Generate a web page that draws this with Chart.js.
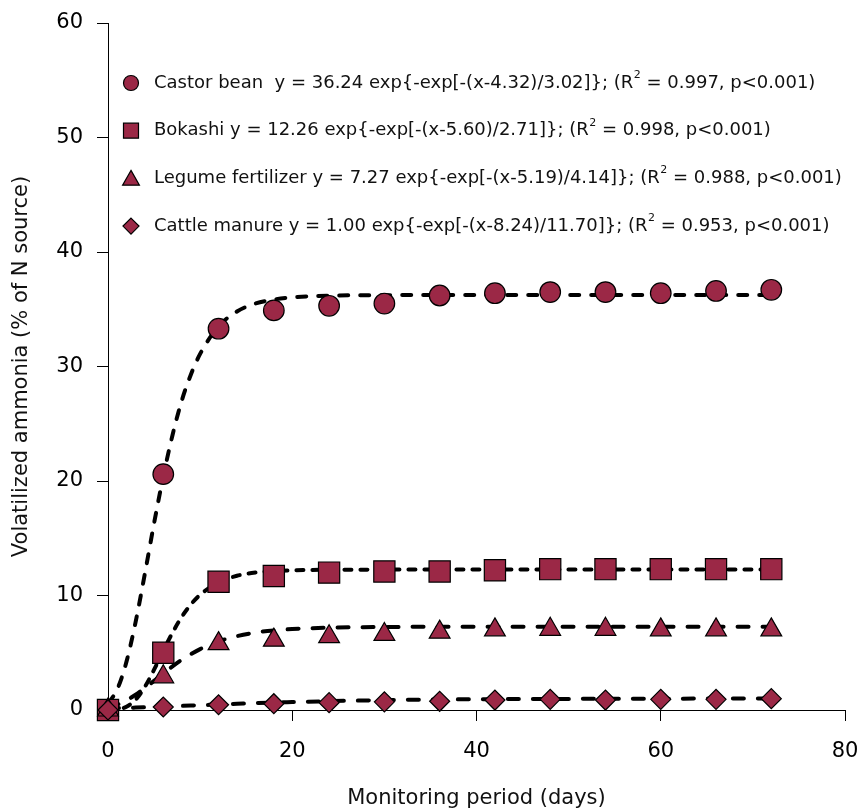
<!DOCTYPE html>
<html>
<head>
<meta charset="utf-8">
<script src="https://cdn.jsdelivr.net/npm/chart.js@4.4.1/dist/chart.umd.min.js"></script>
<style>
  body { margin: 0; background: #ffffff; }
  canvas { display: block; }
</style>
</head>
<body>
<canvas id="myChart" width="857" height="811"></canvas>
<script>
// sampling days of the measured points
const days = [0, 6, 12, 18, 24, 30, 36, 42, 48, 54, 60, 66, 72];

// measured volatilized ammonia (% of N source)
const castorBean = [0, 20.6, 33.3, 34.9, 35.3, 35.5, 36.2, 36.4, 36.5, 36.5, 36.4, 36.6, 36.7];
const bokashi = [0, 5.0, 11.2, 11.7, 12.0, 12.1, 12.1, 12.2, 12.3, 12.3, 12.3, 12.3, 12.3];
const legumeFertilizer = [0, 2.9, 5.8, 6.1, 6.4, 6.6, 6.8, 7.0, 7.05, 7.05, 7.0, 7.0, 7.0];
const cattleManure = [0, 0.26, 0.46, 0.55, 0.64, 0.71, 0.76, 0.87, 0.93, 0.87, 0.93, 0.93, 0.99];

// fitted curves
const curveDays = [0, 1, 2, 3, 4, 5, 6, 7, 8, 9, 10, 12, 14, 16, 18, 20, 24, 30, 40, 50, 60, 72];
const castorCurve = [0.55, 1.8, 4.2, 7.7, 11.9, 16.3, 20.4, 24.0, 27.0, 29.3, 31.1, 33.5, 34.8, 35.5, 35.85, 36.04, 36.19, 36.23, 36.24, 36.24, 36.24, 36.24];
const bokashiCurve = [0.0, 0.05, 0.28, 0.9, 2.02, 3.52, 5.17, 6.75, 8.12, 9.22, 10.06, 11.16, 11.72, 12.0, 12.13, 12.2, 12.25, 12.26, 12.26, 12.26, 12.26, 12.26];
const legumeCurve = [0.22, 0.46, 0.84, 1.33, 1.92, 2.55, 3.2, 3.81, 4.38, 4.88, 5.32, 5.99, 6.45, 6.76, 6.95, 7.07, 7.19, 7.25, 7.27, 7.27, 7.27, 7.27];
const cattleCurve = [0.13, 0.16, 0.18, 0.21, 0.24, 0.27, 0.30, 0.33, 0.36, 0.39, 0.42, 0.48, 0.54, 0.6, 0.65, 0.69, 0.77, 0.86, 0.94, 0.97, 0.99, 1.0];

// legend texts (split around the superscript 2)
const seriesNames = ["Castor bean", "Bokashi", "Legume fertilizer", "Cattle manure"];
const fitTexts = [
    "Castor bean  y = 36.24 exp{-exp[-(x-4.32)/3.02]}; (R",
    "Bokashi y = 12.26 exp{-exp[-(x-5.60)/2.71]}; (R",
    "Legume fertilizer y = 7.27 exp{-exp[-(x-5.19)/4.14]}; (R",
    "Cattle manure y = 1.00 exp{-exp[-(x-8.24)/11.70]}; (R"
];
const statTexts = [" = 0.997, p<0.001)", " = 0.998, p<0.001)", " = 0.988, p<0.001)", " = 0.953, p<0.001)"];

const xTicks = [0, 20, 40, 60, 80];
const yTicks = [0, 10, 20, 30, 40, 50, 60];

const fillColor = '#9b2846';
const fontFamily = '"DejaVu Sans", Verdana, sans-serif';
const pointShapes = ['circle', 'rect', 'triangle', 'rectRot'];
const pointSizes = [10.3, 15, 12, 10];
const dashes = [[9, 12], [7, 9], [11, 14], [11, 14]];

function toXY(xs, ys){
    const out = [];
    for(let i = 0; i < xs.length; i++){
        out.push({x: xs[i], y: ys[i]});
    }
    return out;
}

const measured = [castorBean, bokashi, legumeFertilizer, cattleManure];
const curves = [castorCurve, bokashiCurve, legumeCurve, cattleCurve];

const datasets = [];
for(let i = 0; i < measured.length; i++){
    datasets.push({
        label: seriesNames[i],
        data: toXY(days, measured[i]),
        showLine: false,
        pointStyle: pointShapes[i],
        pointRadius: pointSizes[i],
        pointHoverRadius: pointSizes[i],
        pointBackgroundColor: fillColor,
        pointBorderColor: '#000000',
        pointBorderWidth: 1.2,
        clip: false,
        order: 3 - i
    });
}
for(let i = 0; i < curves.length; i++){
    datasets.push({
        label: seriesNames[i] + ' fit',
        data: toXY(curveDays, curves[i]),
        showLine: true,
        pointRadius: 0,
        borderColor: '#000000',
        borderWidth: 4,
        borderDash: dashes[i],
        borderCapStyle: 'round',
        cubicInterpolationMode: 'monotone',
        fill: false,
        clip: false,
        order: 10
    });
}

function drawMarker(ctx, shape, x, y, r){
    ctx.beginPath();
    if(shape == 'circle'){
        ctx.arc(x, y, r, 0, Math.PI * 2);
    }
    else if(shape == 'rect'){
        ctx.rect(x - r, y - r, 2 * r, 2 * r);
    }
    else if(shape == 'triangle'){
        ctx.moveTo(x, y - r);
        ctx.lineTo(x + r * 1.05, y + r * 0.85);
        ctx.lineTo(x - r * 1.05, y + r * 0.85);
        ctx.closePath();
    }
    else{
        ctx.moveTo(x, y - r);
        ctx.lineTo(x + r, y);
        ctx.lineTo(x, y + r);
        ctx.lineTo(x - r, y);
        ctx.closePath();
    }
    ctx.fillStyle = fillColor;
    ctx.fill();
    ctx.lineWidth = 1.2;
    ctx.strokeStyle = '#000000';
    ctx.stroke();
}

const fitLegend = {
    id: 'fitLegend',
    afterDraw(chart){
        const ctx = chart.ctx;
        ctx.save();
        const legendSizes = [7.5, 7.5, 8, 8];
        for(let i = 0; i < fitTexts.length; i++){
            const rowY = 83 + i * 47.7;
            drawMarker(ctx, pointShapes[i], 131, rowY, legendSizes[i]);
            ctx.fillStyle = '#111111';
            ctx.textBaseline = 'middle';
            ctx.textAlign = 'left';
            ctx.font = '18px ' + fontFamily;
            let x = 154;
            ctx.fillText(fitTexts[i], x, rowY);
            x += ctx.measureText(fitTexts[i]).width;
            ctx.font = '11px ' + fontFamily;
            ctx.fillText('2', x + 0.5, rowY - 8);
            x += ctx.measureText('2').width + 0.5;
            ctx.font = '18px ' + fontFamily;
            ctx.fillText(statTexts[i], x, rowY);
        }
        ctx.restore();
    }
};

const config = {
    type: 'scatter',
    data: { datasets },
    options: {
        responsive: false,
        animation: false,
        layout: { autoPadding: false, padding: { top: 23, right: 12, bottom: 0, left: 0 } },
        plugins: {
            legend: { display: false },
            tooltip: { enabled: false }
        },
        scales: {
            x: {
                type: 'linear',
                min: 0,
                max: 80,
                afterBuildTicks: s => { s.ticks = xTicks.map(v => ({value: v})); },
                afterFit: s => { s.height = 101; s.paddingLeft = 0; s.paddingRight = 0; },
                grid: { drawOnChartArea: false, drawTicks: true, tickLength: 11, color: '#000000', lineWidth: 1 },
                border: { display: true, color: '#000000', width: 1 },
                ticks: { color: '#000000', font: { family: fontFamily, size: 21 }, padding: 18, maxRotation: 0 },
                title: {
                    display: true,
                    text: 'Monitoring period (days)',
                    color: '#111111',
                    font: { family: fontFamily, size: 21 },
                    padding: { top: 0, bottom: 0 }
                }
            },
            y: {
                type: 'linear',
                min: 0,
                max: 60,
                afterBuildTicks: s => { s.ticks = yTicks.map(v => ({value: v})); },
                afterFit: s => { s.width = 108; s.paddingTop = 0; s.paddingBottom = 0; },
                grid: { drawOnChartArea: false, drawTicks: true, tickLength: 11, color: '#000000', lineWidth: 1 },
                border: { display: true, color: '#000000', width: 1 },
                ticks: { color: '#000000', font: { family: fontFamily, size: 21 }, padding: 14 },
                title: {
                    display: true,
                    text: 'Volatilized ammonia (% of N source)',
                    color: '#111111',
                    font: { family: fontFamily, size: 21 },
                    padding: { top: 9, bottom: 0 }
                }
            }
        }
    },
    plugins: [fitLegend]
};

const myChart = new Chart(document.getElementById('myChart'), config);
</script>
</body>
</html>
